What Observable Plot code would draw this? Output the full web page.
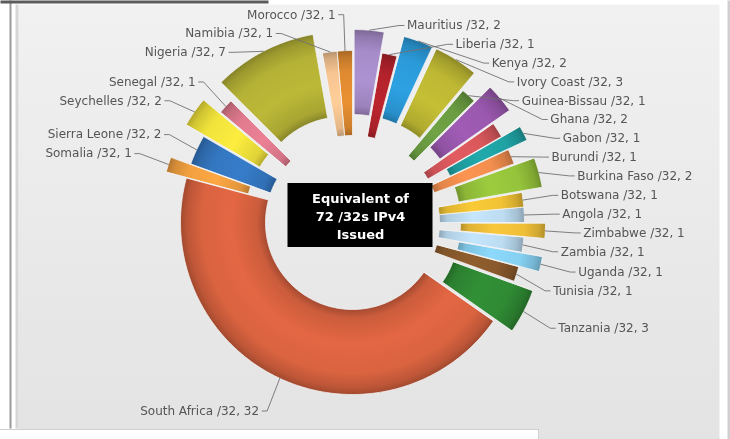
<!DOCTYPE html>
<html><head><meta charset="utf-8">
<script src="https://cdn.jsdelivr.net/npm/d3@7"></script>
<script src="https://cdn.jsdelivr.net/npm/@observablehq/plot@0.6"></script>
<style>html,body{margin:0;padding:0;background:#fff;overflow:hidden} svg{display:block;filter:blur(0.45px)}</style>
</head><body><div id="chart"></div>
<script>
// ---------- DATA ----------
const countries = ["Mauritius","Liberia","Kenya","Ivory Coast","Guinea-Bissau","Ghana","","Gabon","Burundi","Burkina Faso","Botswana","Angola","Zimbabwe","Zambia","Uganda","Tunisia","Tanzania","South Africa","Somalia","Sierra Leone","Seychelles","Senegal","Nigeria","Namibia","Morocco"];
const allocations = [2,1,2,3,1,2,1,1,1,2,1,1,1,1,1,1,3,32,1,2,2,1,7,1,1];
const prefixUnit = "/32";

// ---------- STYLE / LAYOUT ----------
const palette = ["#a68cc9","#b3232c","#2b9ad9","#bdb733","#6b9d42","#9a58ae","#d9585c","#1fa2a4","#f28e4e","#95c33b","#f0c234","#bddcf1","#efbf38","#bcdcf2","#86d0f1","#8a5a2c","#2f8a34","#da6340","#f2a040","#3477c1","#f1e33b","#e27b8f","#b4b136","#f7c592","#df8a30"];
const explodedCountries = new Set(["Mauritius","Kenya","Ivory Coast","Ghana","Gabon","Burkina Faso","Zimbabwe","Uganda","Tanzania","Somalia","Seychelles","Nigeria"]);
const W = 730, H = 439;
const C = {x: 352, y: 222};
const rIn = 87, rOut = 172, explodeDist = 21;
const labelR = 202, labelGap = 18.8, labelTop = {left: 14, right: 25};
const font = "DejaVu Sans, Verdana, sans-serif";

// ---------- GEOMETRY FROM DATA ----------
const total = d3.sum(allocations);
let acc = 0;
const slices = countries.map((name, i) => {
  const value = allocations[i];
  const a0 = acc / total * 2 * Math.PI; acc += value;
  const a1 = acc / total * 2 * Math.PI;
  const mid = (a0 + a1) / 2;
  const e = explodedCountries.has(name) ? explodeDist : 0;
  return {i, name, value, a0, a1, mid, e,
    ox: C.x + e * Math.sin(mid), oy: C.y - e * Math.cos(mid),
    color: palette[i], gid: "sg" + i};
});
function arcPoints(s) {
  const n = Math.max(3, Math.ceil((s.a1 - s.a0) / (Math.PI / 180)));
  const pts = [];
  for (let k = 0; k <= n; k++) { const a = s.a0 + (s.a1 - s.a0) * k / n; pts.push({x: s.ox + rOut * Math.sin(a), y: s.oy - rOut * Math.cos(a)}); }
  for (let k = n; k >= 0; k--) { const a = s.a0 + (s.a1 - s.a0) * k / n; pts.push({x: s.ox + rIn * Math.sin(a), y: s.oy - rIn * Math.cos(a)}); }
  return pts;
}

// label layout
const labeled = slices.filter(s => s.name);
const rightSide = labeled.filter(s => s.mid < Math.PI).sort((a, b) => a.mid - b.mid);
const leftSide = labeled.filter(s => s.mid >= Math.PI).sort((a, b) => b.mid - a.mid);
function place(list, side, minY) {
  let prev = -Infinity;
  for (const s of list) {
    const natural = C.y - (rOut + s.e + 36) * Math.cos(s.mid);
    s.ly = Math.max(natural, minY, prev + labelGap);
    prev = s.ly;
    const dy = s.ly - C.y;
    const sn = Math.abs(Math.sin(s.mid));
    const h = Math.max(Math.sqrt(Math.max(0, labelR * labelR - dy * dy)) + s.e * sn, (labelR + s.e) * sn);
    s.side = side;
    s.ex = s.ox + rOut * Math.sin(s.mid);
    s.ey = s.oy - rOut * Math.cos(s.mid);
    s.ax = C.x + side * h;
    s.tx = s.ax + side * 8;
    s.label = `${s.name} ${prefixUnit}, ${s.value}`;
  }
}
place(rightSide, 1, labelTop.right);
place(leftSide, -1, labelTop.left);
const leaders = labeled.flatMap(s => [
  {name: s.name, x: s.ex, y: s.ey},
  {name: s.name, x: s.ax, y: s.ly},
  {name: s.name, x: s.ax + s.side * 5, y: s.ly}
]);

const centerText = `Equivalent of\n${total} ${prefixUnit}s IPv4\nIssued`;
const box = {dx: 8, dy: -7, w: 145, h: 64};

const sliceMarks = slices.map(s => Plot.line(arcPoints(s), {
  x: "x", y: "y", curve: "linear-closed",
  fill: `url(#${s.gid})`, stroke: "#f4f4f4", strokeWidth: 0.9, strokeOpacity: 0.85
}));

const chart = Plot.plot({
  width: W, height: H, margin: 0,
  x: {domain: [0, W], range: [0, W], axis: null},
  y: {domain: [0, H], range: [0, H], axis: null},
  style: {background: "#fff", fontFamily: font},
  marks: [
    Plot.frame({fill: "url(#panelBg)", insetLeft: 18, insetTop: 4, insetRight: 11}),
    Plot.frame({fill: "#d6d6d6", insetLeft: 15, insetRight: W - 18, insetTop: 4, insetBottom: 11}),
    Plot.frame({fill: "#9a9a9a", insetLeft: 9, insetRight: W - 11, insetBottom: 11}),
    Plot.frame({fill: "#5b5b5b", insetBottom: H - 3, insetRight: W - 268}),
    Plot.frame({fill: "#cfcfcf", insetLeft: 727}),
    Plot.frame({fill: "#ffffff", stroke: "#d0d0d0", insetTop: 429, insetRight: W - 538, insetLeft: -2, insetBottom: -2}),
    ...sliceMarks,
    Plot.line(leaders, {x: "x", y: "y", z: "name", stroke: "#707070", strokeWidth: 0.9}),
    Plot.text(rightSide, {x: "tx", y: "ly", text: "label", textAnchor: "start", fontSize: 12, fill: "#555"}),
    Plot.text(leftSide, {x: "tx", y: "ly", text: "label", textAnchor: "end", fontSize: 12, fill: "#555"}),
    Plot.rect([centerText], {
      x1: () => C.x + box.dx - box.w / 2, x2: () => C.x + box.dx + box.w / 2,
      y1: () => C.y + box.dy - box.h / 2, y2: () => C.y + box.dy + box.h / 2,
      fill: "#000"
    }),
    Plot.text([centerText], {x: () => C.x + box.dx, y: () => C.y + box.dy, text: d => d,
      fill: "#fff", fontWeight: "bold", fontSize: 13, lineHeight: 1.38})
  ]
});

// gradients (positions via the chart's scales)
const xs = chart.scale("x"), ys = chart.scale("y");
const ns = "http://www.w3.org/2000/svg";
const defs = document.createElementNS(ns, "defs");
function stop(parent, off, col) {
  const st = document.createElementNS(ns, "stop");
  st.setAttribute("offset", off); st.setAttribute("stop-color", col);
  parent.appendChild(st);
}
const bg = document.createElementNS(ns, "linearGradient");
bg.setAttribute("id", "panelBg"); bg.setAttribute("x1", 0); bg.setAttribute("y1", 0); bg.setAttribute("x2", 0); bg.setAttribute("y2", 1);
stop(bg, 0, "#f1f1f1"); stop(bg, 1, "#e3e3e3");
defs.appendChild(bg);
const profile = [[0, -0.8], [0.1, -0.2], [0.4, 0.12], [0.75, 0], [0.92, -0.4], [1, -0.85]];
for (const s of slices) {
  const g = document.createElementNS(ns, "radialGradient");
  g.setAttribute("id", s.gid);
  g.setAttribute("gradientUnits", "userSpaceOnUse");
  const cx = xs.apply(s.ox), cy = ys.apply(s.oy);
  g.setAttribute("cx", cx); g.setAttribute("cy", cy);
  g.setAttribute("fx", cx); g.setAttribute("fy", cy);
  g.setAttribute("r", xs.apply(s.ox + rOut) - cx);
  for (const [t, k] of profile) {
    const off = (rIn + t * (rOut - rIn)) / rOut;
    const c = d3.color(s.color);
    stop(g, off, (k < 0 ? c.darker(-k) : c.brighter(k)).formatHex());
  }
  defs.appendChild(g);
}
chart.insertBefore(defs, chart.firstChild);
document.getElementById("chart").appendChild(chart);
</script>
</body></html>
